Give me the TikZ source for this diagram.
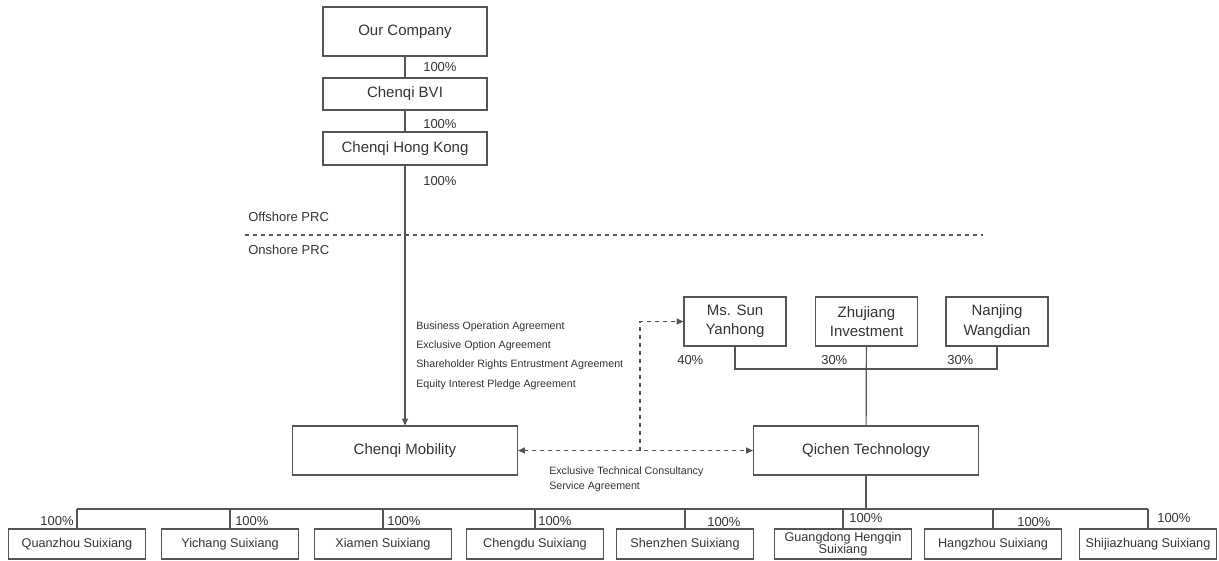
\documentclass[tikz,border=0pt]{standalone}
\usepackage{fontspec}
\setmainfont{Liberation Sans}
\usepackage{tikz}
\usetikzlibrary{arrows.meta}
\definecolor{txtgray}{HTML}{333333}
\definecolor{linegray}{HTML}{555555}

\begin{document}
\begin{tikzpicture}[x=0.75pt, y={(0pt,-0.75pt)},
  every node/.style = {text=txtgray},
  ent/.style = {draw=linegray, line width=0.9pt, align=center, inner sep=1pt, font=\fontsize{11.25}{14.5}\selectfont},
  sub/.style = {draw=linegray, line width=0.9pt, minimum width=102.75pt, minimum height=22.5pt, inner sep=1pt, align=center, font=\fontsize{9.5}{9}\selectfont},
  pct/.style = {inner sep=0pt, font=\fontsize{9.75}{11}\selectfont},
  note/.style = {inner sep=0pt, align=left, font=\fontsize{8}{14.6}\selectfont},
  link/.style = {draw=linegray, line width=0.9pt},
  tip/.style = {-{Triangle[length=5pt,width=4.5pt]}},
  tips/.style = {{Triangle[length=5pt,width=4.5pt]}-{Triangle[length=5pt,width=4.5pt]}}]

\useasboundingbox (0,0) rectangle (1219,560);

%% offshore entities
\node[ent, minimum width=123pt, minimum height=36.75pt] (ourco) at (405,31.5) {Our Company};
\node[ent, minimum width=123pt, minimum height=24pt] (bvi) at (405,94) {Chenqi BVI};
\node[ent, minimum width=123pt, minimum height=24.75pt] (hk) at (405,148.5) {Chenqi Hong Kong};

\node[pct, anchor=west] (p1) at (423,67) {100\%};
\node[pct, anchor=west] (p2) at (423,124) {100\%};
\node[pct, anchor=west] (p3) at (423,181) {100\%};

%% border
\node[pct, anchor=west] (off) at (248,217) {Offshore PRC};
\node[pct, anchor=west] (on) at (248,250) {Onshore PRC};
\coordinate (bl) at (245,235);
\coordinate (br) at (983,235);

%% onshore entities
\node[ent, minimum width=168.75pt, minimum height=36.75pt] (mob) at (405,450.5) {Chenqi Mobility};
\node[ent, minimum width=168.75pt, minimum height=36.75pt] (qic) at (866,450.5) {Qichen Technology};
\node[ent, minimum width=76.5pt, minimum height=36.75pt] (sun) at (735,321.5) {Ms. Sun\\Yanhong};
\node[ent, minimum width=76.5pt, minimum height=36.75pt] (zhu) at (866.5,321.5) {Zhujiang\\Investment};
\node[ent, minimum width=76.5pt, minimum height=36.75pt] (nan) at (997,321.5) {Nanjing\\Wangdian};

\node[pct, anchor=west] (q1) at (677,360) {40\%};
\node[pct, anchor=west] (q2) at (821,360) {30\%};
\node[pct, anchor=west] (q3) at (947,360) {30\%};

\node[note, anchor=north west] (vie) at (416,321) {Business Operation Agreement\\Exclusive Option Agreement\\Shareholder Rights Entrustment Agreement\\Equity Interest Pledge Agreement};
\node[note, anchor=north west, font=\fontsize{8}{11.25}\selectfont] (tech) at (549,466) {Exclusive Technical Consultancy\\Service Agreement};

%% subsidiaries
\node[sub] (s1) at (77,544) {Quanzhou Suixiang};
\node[sub] (s2) at (230,544) {Yichang Suixiang};
\node[sub] (s3) at (383,544) {Xiamen Suixiang};
\node[sub] (s4) at (535,544) {Chengdu Suixiang};
\node[sub] (s5) at (685,544) {Shenzhen Suixiang};
\node[sub] (s6) at (843,544) {Guangdong Hengqin\\Suixiang};
\node[sub] (s7) at (993,544) {Hangzhou Suixiang};
\node[sub] (s8) at (1148,544) {Shijiazhuang Suixiang};

\node[pct, anchor=east] (r1) at (74,521) {100\%};
\node[pct, anchor=west] (r2) at (235,521) {100\%};
\node[pct, anchor=west] (r3) at (387,521) {100\%};
\node[pct, anchor=west] (r4) at (538,521) {100\%};
\node[pct, anchor=west] (r5) at (707,522) {100\%};
\node[pct, anchor=west] (r6) at (849,518) {100\%};
\node[pct, anchor=west] (r7) at (1017,522) {100\%};
\node[pct, anchor=west] (r8) at (1157,518) {100\%};

%%% edges
\draw[link] (ourco) -- (bvi) -- (hk);
\draw[link, tip] (hk) -- (mob);
\draw[link, dashed] (bl) -- (br);

\coordinate (jn) at (866.5,369);
\draw[link] (sun.south) |- (jn) -| (nan.south);
\draw[link] (zhu) -- (qic);

\coordinate (dj) at (640,450.5);
\draw[link, dashed, tips] (mob) -- (qic);
\draw[link, dashed, tip] (dj) |- (sun.west);

\coordinate (bar) at (0,509);
\draw[link] (qic) -- (qic.south |- bar);
\draw[link] (s1.north |- bar) -- (s8.north |- bar);
\foreach \i in {1,...,8}
  \draw[link] (s\i.north |- bar) -- (s\i);

\end{tikzpicture}
\end{document}
